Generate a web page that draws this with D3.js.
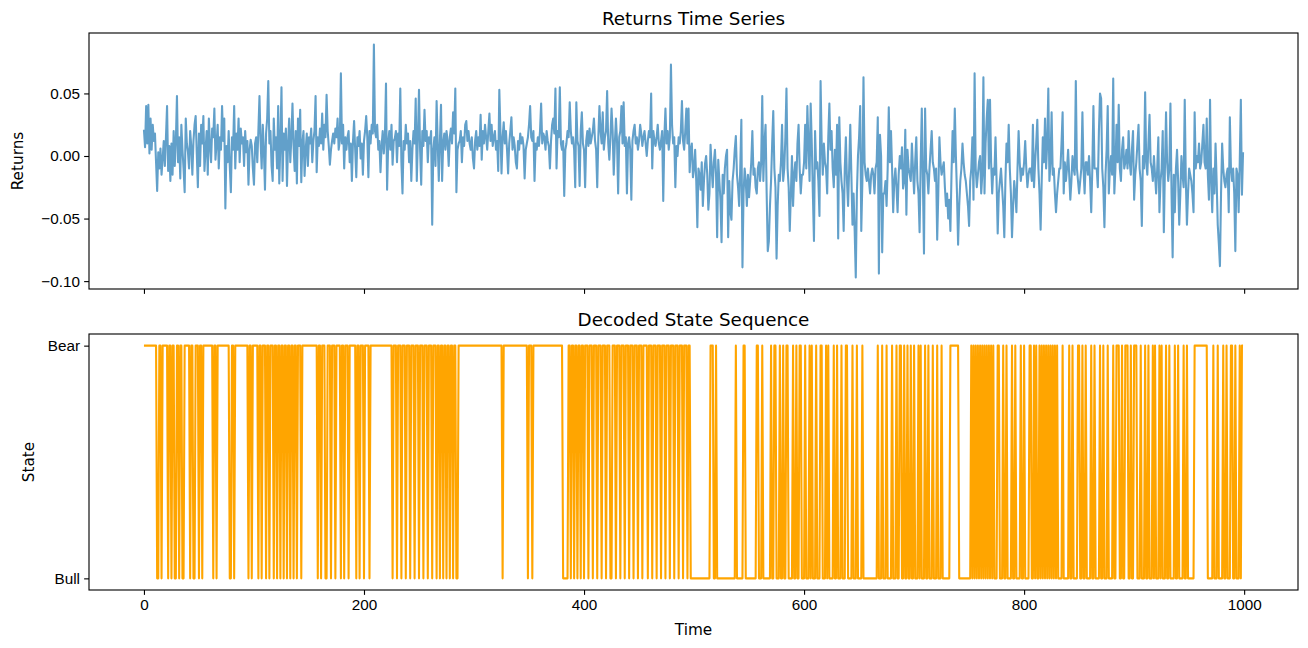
<!DOCTYPE html>
<html>
<head>
<meta charset="utf-8">
<script src="https://cdn.jsdelivr.net/npm/d3@7"></script>
<style>
  body { margin: 0; background: #fff; }
  svg { font-family: "DejaVu Sans", sans-serif; }
</style>
</head>
<body>
<svg id="chart" width="1308" height="648"></svg>
<script>
// returns, one per time step (t = 0..999)
var returns = [
.021,.007,.040,.010,.041,.002,.030,.005,.025,.012,.018,-.005,-.028,.003,-.010,.006,-.015,-.002,.012,-.008,
.015,.040,-.012,.008,-.020,.010,-.015,.020,-.008,.012,.048,-.005,.015,-.018,.025,.005,-.010,-.029,.030,.010,
.003,-.010,.020,.008,-.015,.012,.025,.032,.002,-.025,.018,-.008,.025,.010,.032,-.012,.005,.020,-.015,.030,
.008,-.005,.022,.015,.038,-.003,.010,.025,-.010,.015,.005,.040,.012,.030,-.042,.008,-.005,.020,-.008,-.029,
.015,.005,.040,-.010,.018,.005,.030,-.005,.022,.010,.015,-.008,.020,.003,.012,-.023,.005,.013,.008,-.010,
-.023,.010,.015,-.005,.020,.048,.012,-.010,.025,.005,-.027,.018,.030,.060,.010,.020,-.008,-.020,.030,.005,
.015,-.010,.040,-.022,.010,.055,-.020,.018,.005,.022,-.024,.010,.030,-.005,.015,.042,.008,-.012,.020,-.022,
.030,.008,.037,-.021,.010,.020,-.016,.005,.018,-.008,.015,.010,.022,-.005,.012,.020,.048,-.013,.015,.008,
.022,.010,.034,.005,.025,.015,.049,.020,.008,-.007,.005,.012,.018,.010,.022,.015,.030,.005,.012,.066,
.010,.025,-.010,.015,.005,.015,.020,-.005,.010,-.020,.012,.028,.005,-.017,.015,.008,.020,-.002,.010,-.015,
.012,.020,.032,.015,-.017,.020,.010,.025,.018,.089,.020,.015,.025,.005,.012,-.013,.008,.020,.002,.015,
.058,-.027,.010,.020,.005,.025,-.007,.012,.014,.020,-.005,.018,.008,.054,-.005,-.030,.012,.005,.025,.010,
.018,-.005,.012,-.020,.005,.020,.010,.046,-.020,.015,.053,.005,-.023,.020,.008,.037,.012,.020,-.005,.015,
.010,.020,-.055,.005,.015,-.008,.044,.010,-.020,.012,.041,-.020,.010,.018,.005,.020,.012,-.008,.015,.022,
.010,.035,.018,.054,-.029,.005,.010,.012,.020,-.005,.015,.008,.025,.028,.012,.020,.010,.005,.015,-.002,
-.010,.012,.020,.005,.015,.008,.033,-.003,.020,.010,.025,.015,.005,.020,.034,.012,.025,.008,.015,.020,
.005,.012,-.012,.053,.020,-.014,.015,.027,.010,.020,.005,-.014,.010,.020,.031,.005,.015,.008,-.005,-.010,
.012,.005,.018,.010,.015,.008,-.018,.005,.010,.015,.025,.040,.015,.012,.020,-.020,.010,.005,.015,.008,
.020,.042,.010,.018,.015,.005,.020,.012,.008,-.010,.012,.025,.030,.018,.054,-.010,.020,.015,.055,.010,
.005,.012,-.032,.005,.010,.020,.015,.043,.020,.010,.015,.005,-.025,.043,.012,.008,-.024,.020,.035,.010,
.005,-.025,.012,.020,.008,.022,.010,.015,.020,.030,.012,.005,-.025,.015,.040,.020,.010,.035,.005,.015,
.020,.052,.010,-.003,.015,.038,.020,-.015,.010,.030,.012,-.030,.015,.020,.040,.010,.043,.008,.015,-.030,
.010,.015,.005,-.035,.012,.020,.025,.010,.015,.005,.012,.025,.018,.008,.015,.020,.010,.000,.012,.020,
.015,.050,-.010,.020,.012,.008,.015,.025,.010,.005,.012,.020,-.036,.015,.038,.010,.020,.005,.015,.073,
.025,.010,.015,-.025,.008,.000,.015,.010,.020,.044,.012,.005,.020,.038,.010,.038,-.013,.005,.010,-.017,
-.010,.005,-.020,-.057,-.010,-.015,-.027,-.005,-.040,-.020,-.006,.000,-.015,-.043,-.030,.009,-.010,-.025,-.005,.005,
-.015,-.065,-.003,-.020,-.035,-.069,-.015,-.030,-.010,.000,.005,-.065,-.020,-.045,-.051,-.020,-.010,.005,.016,-.015,
-.025,-.040,-.010,.029,-.089,-.030,-.010,-.020,-.040,-.015,-.033,-.020,-.005,.020,-.015,-.010,-.025,-.030,-.010,-.005,
-.020,-.005,.048,-.020,.010,.025,-.030,-.076,-.068,-.040,-.020,.010,.036,-.010,-.025,-.082,-.040,-.015,-.020,-.005,
.025,-.020,-.010,.015,.054,-.010,-.025,-.060,-.030,.000,-.040,-.015,-.005,-.020,.010,.025,-.010,-.030,-.015,-.015,
-.005,.025,-.010,.040,.010,-.020,.042,.010,-.030,-.068,.020,-.010,-.005,-.020,-.048,.060,.010,-.015,.010,-.005,
-.010,-.030,.015,.042,.005,.020,-.010,-.025,.005,-.015,.025,-.066,.031,-.005,-.020,-.030,-.060,-.010,.015,-.020,
-.040,-.010,.025,-.015,-.055,-.030,-.060,-.097,-.030,.000,.015,.040,-.060,-.020,.063,-.005,-.015,-.020,-.010,-.020,
-.030,-.015,-.010,-.015,-.030,-.010,-.005,.031,-.094,.017,.000,-.077,-.030,-.030,-.020,-.040,-.010,.039,-.005,.020,
-.010,-.045,-.020,-.010,-.025,-.045,-.015,.000,-.010,.007,-.026,-.020,.021,-.047,.005,-.010,-.015,-.020,.010,-.010,
-.030,-.005,.015,-.020,-.030,-.061,-.005,.038,-.020,-.078,.038,-.010,-.015,-.030,-.010,.005,.020,-.005,-.010,-.020,
-.010,-.067,-.030,.015,-.005,-.015,-.010,-.005,-.025,-.040,-.030,-.050,-.035,-.060,-.015,.020,-.005,.038,.000,-.030,
-.071,-.040,-.020,-.010,.010,-.005,-.015,-.020,-.030,-.040,-.056,-.020,-.010,.015,-.035,.066,-.010,-.025,-.015,-.005,
.000,-.030,-.015,.063,-.030,.010,.030,.045,-.010,.045,-.005,-.030,-.010,-.015,.015,-.020,-.062,-.030,-.020,-.010,
-.025,-.040,-.065,-.020,.010,-.005,.025,-.010,-.030,-.065,-.040,-.020,-.030,-.045,-.010,.020,-.005,-.020,-.010,-.015,
-.005,.012,-.010,-.025,-.015,-.010,-.010,-.020,.025,-.025,-.005,.010,.029,-.010,-.030,-.059,-.020,.015,-.005,.030,
-.010,.010,.054,-.020,-.005,.035,-.015,-.010,-.030,-.045,-.030,-.020,-.010,-.010,.010,.035,-.030,-.005,-.020,-.010,
.005,-.015,-.035,-.020,.000,-.010,-.015,.060,-.010,-.020,-.030,-.020,-.010,.035,-.010,-.030,-.005,-.005,-.015,.000,
-.020,-.045,-.010,.040,-.010,-.010,-.010,-.025,.020,.050,.046,-.010,-.025,-.057,-.015,.005,.040,-.030,-.010,.000,
-.015,.062,-.030,-.010,.025,-.005,.041,-.010,-.020,.005,.015,-.010,-.005,.005,-.010,.020,-.005,-.015,.005,.020,
-.035,-.015,-.005,.010,.025,-.010,-.020,-.056,.000,-.010,.051,-.005,-.015,.010,.033,-.005,-.010,-.020,.000,-.015,
-.030,-.010,.015,-.045,-.020,-.010,.020,-.061,-.010,.035,-.005,-.020,-.010,.042,-.030,-.081,-.015,-.045,-.010,.005,
-.020,-.055,-.030,.000,-.015,-.025,.045,-.020,-.055,-.030,-.010,-.015,-.020,-.030,-.045,.035,-.010,.000,-.005,.010,
-.010,-.005,.010,.025,-.005,-.010,.030,-.015,-.035,.045,-.020,-.045,-.010,-.030,.010,-.020,-.055,-.070,-.088,-.030,
.010,-.010,-.020,-.025,-.015,-.010,-.045,.031,-.010,-.020,-.010,-.030,-.076,-.010,-.015,-.045,-.005,.045,-.031,.003
];

// decoded states: Bear until regimeChange (with short Bull dips), Bull after (with Bear spikes)
var stateNames = ["Bull", "Bear"];
var regimeChange = 497;
var bullSpans = [[12,14],[16,17],[22,23],[25,26],[28,30],[32,33],[35,37],[42,43],[45,47],[50,51],[53,54],
  [63,64],[66,67],[78,80],[82,83],[95,96],[98,99],[104,105],[107,108],[111,112],[114,115],[118,119],
  [121,122],[124,125],[127,128],[130,131],[133,134],[136,137],[139,140],[143,144],[158,159],[161,162],
  [165,167],[170,171],[174,175],[179,180],[182,183],[186,187],[193,194],[196,197],[200,201],[205,206],
  [226,227],[230,231],[234,235],[238,239],[242,243],[246,247],[250,251],[254,255],[258,259],[262,263],
  [266,267],[269,270],[272,273],[275,276],[278,279],[281,282],[284,286],[326,327],[349,350],[353,354],
  [381,386],[388,389],[391,392],[394,395],[397,398],[400,401],[404,405],[408,409],[412,413],[416,417],
  [420,421],[424,426],[429,430],[433,434],[437,438],[441,442],[445,446],[449,450],[453,454],[458,459],
  [462,463],[466,467],[470,471],[474,475],[478,479],[482,483],[486,487],[490,491],[494,495]];
var bearSpans = [[515,518],[520,521],[538,539],[545,547],[557,559],[562,563],[570,571],[573,575],
  [578,579],[581,582],[584,586],[590,591],[593,594],[596,598],[601,602],[605,606],[607,608],[611,612],
  [615,617],[620,621],[622,623],[627,628],[630,631],[634,635],[638,640],[644,645],[648,649],[653,654],
  [667,668],[671,672],[675,676],[680,681],[684,685],[687,689],[691,692],[694,695],[697,698],[700,701],
  [704,705],[706,707],[710,711],[713,714],[717,718],[721,722],[725,726],[733,741],[752,753],[754,755],
  [756,757],[758,759],[760,761],[762,763],[764,765],[766,767],[768,769],[770,771],[772,773],[776,778],
  [781,782],[784,785],[789,790],[792,793],[797,798],[800,801],[805,807],[809,810],[811,812],[814,815],
  [816,817],[818,819],[820,821],[822,823],[824,825],[826,827],[828,829],[830,831],[835,836],[841,842],
  [844,845],[849,851],[853,854],[856,857],[861,862],[864,865],[869,870],[872,873],[876,877],[881,882],
  [884,887],[889,890],[892,895],[897,898],[900,903],[906,907],[910,911],[913,914],[917,918],[919,920],
  [923,924],[925,926],[929,930],[932,933],[937,938],[940,941],[945,946],[948,949],[955,967],[972,973],
  [976,977],[981,982],[984,985],[988,990],[992,993],[996,997],[998,1000]];

var xTicks = [0, 200, 400, 600, 800, 1000];
var returnTicks = [-0.10, -0.05, 0.00, 0.05];

function inSpans(t, spans) {
  return spans.some(function(s) { return t >= s[0] && t < s[1]; });
}
var states = returns.map(function(r, t) {
  if (t < regimeChange) return inSpans(t, bullSpans) ? 0 : 1;
  return inSpans(t, bearSpans) ? 1 : 0;
});

var pt = 100 / 72;
var fs = 1.1 * pt;   // text in the picture is a little larger than 100 dpi
var left = 89, right = 1298;
var top1 = 33, bottom1 = 289;
var top2 = 334, bottom2 = 590;

var svg = d3.select("#chart");
svg.append("rect").attr("width", 1308).attr("height", 648).attr("fill", "#fff");

var n = returns.length;
var xPad = 0.05 * (n - 1);
var x = d3.scaleLinear().domain([-xPad, n - 1 + xPad]).range([left, right]);

var ext = d3.extent(returns);
var yPad = 0.05 * (ext[1] - ext[0]);
var y1 = d3.scaleLinear().domain([ext[0] - yPad, ext[1] + yPad]).range([bottom1, top1]);
var y2 = d3.scaleLinear().domain([-0.05, 1.05]).range([bottom2, top2]);

function styleAxis(g) {
  g.select(".domain").remove();
  g.selectAll(".tick line").attr("stroke", "#000").attr("stroke-width", 0.8 * pt);
  g.selectAll(".tick text").attr("fill", "#000").style("font-size", (10 * fs) + "px");
}

function panel(top, title) {
  var g = svg.append("g");
  g.append("text")
    .attr("x", (left + right) / 2).attr("y", top - 6 * pt)
    .attr("text-anchor", "middle")
    .style("font-size", (12 * fs) + "px")
    .text(title);
  return g;
}

// top panel
var g1 = panel(top1, "Returns Time Series");
g1.append("g")
  .attr("transform", "translate(0," + bottom1 + ")")
  .call(d3.axisBottom(x).tickValues(xTicks).tickFormat("").tickSize(3.5 * pt).tickSizeOuter(0))
  .call(styleAxis);
g1.append("g")
  .attr("transform", "translate(" + left + ",0)")
  .call(d3.axisLeft(y1).tickValues(returnTicks).tickFormat(d3.format(".2f"))
    .tickSize(3.5 * pt).tickPadding(3 * pt).tickSizeOuter(0))
  .call(styleAxis);

g1.append("path")
  .datum(returns)
  .attr("fill", "none")
  .attr("stroke", "#1f77b4")
  .attr("stroke-opacity", 0.7)
  .attr("stroke-width", 1.5 * pt)
  .attr("stroke-linejoin", "round")
  .attr("d", d3.line().x(function(d, i) { return x(i); }).y(function(d) { return y1(d); }));

g1.append("rect")
  .attr("x", left).attr("y", top1).attr("width", right - left).attr("height", bottom1 - top1)
  .attr("fill", "none").attr("stroke", "#000").attr("stroke-width", 0.8 * pt);

g1.append("text")
  .attr("transform", "translate(18," + (top1 + bottom1) / 2 + ") rotate(-90)")
  .attr("text-anchor", "middle").attr("dominant-baseline", "central")
  .style("font-size", (10 * fs) + "px")
  .text("Returns");

// bottom panel
var g2 = panel(top2, "Decoded State Sequence");
g2.append("g")
  .attr("transform", "translate(0," + bottom2 + ")")
  .call(d3.axisBottom(x).tickValues(xTicks).tickFormat(d3.format("d"))
    .tickSize(3.5 * pt).tickPadding(3 * pt).tickSizeOuter(0))
  .call(styleAxis);
g2.append("g")
  .attr("transform", "translate(" + left + ",0)")
  .call(d3.axisLeft(y2).tickValues([0, 1]).tickFormat(function(d) { return stateNames[d]; })
    .tickSize(3.5 * pt).tickPadding(3 * pt).tickSizeOuter(0))
  .call(styleAxis);

g2.append("path")
  .datum(states)
  .attr("fill", "none")
  .attr("stroke", "orange")
  .attr("stroke-width", 1.5 * pt)
  .attr("stroke-linejoin", "round")
  .attr("d", d3.line().x(function(d, i) { return x(i); }).y(function(d) { return y2(d); }));

g2.append("rect")
  .attr("x", left).attr("y", top2).attr("width", right - left).attr("height", bottom2 - top2)
  .attr("fill", "none").attr("stroke", "#000").attr("stroke-width", 0.8 * pt);

g2.append("text")
  .attr("transform", "translate(29," + (top2 + bottom2) / 2 + ") rotate(-90)")
  .attr("text-anchor", "middle").attr("dominant-baseline", "central")
  .style("font-size", (10 * fs) + "px")
  .text("State");

g2.append("text")
  .attr("x", (left + right) / 2).attr("y", 635)
  .attr("text-anchor", "middle")
  .style("font-size", (10 * fs) + "px")
  .text("Time");
</script>
</body>
</html>
